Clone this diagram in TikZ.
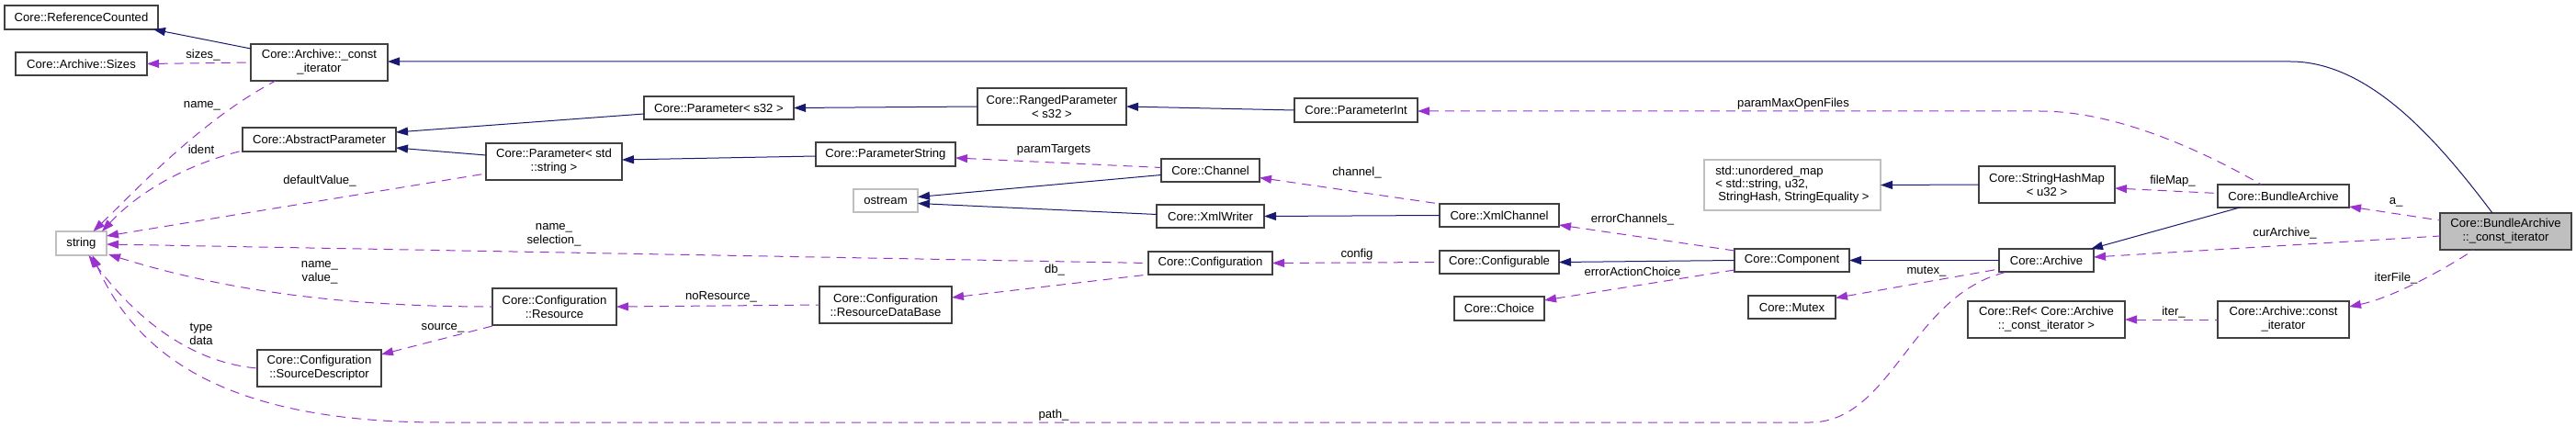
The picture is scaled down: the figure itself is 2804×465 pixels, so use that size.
\documentclass[tikz,border=0pt]{standalone}
\usepackage{fontspec}
\setmainfont{Liberation Sans}
\usetikzlibrary{arrows.meta,calc}
\definecolor{navyc}{HTML}{191970}
\definecolor{orch}{HTML}{9A32CD}
\definecolor{bord}{HTML}{404040}
\definecolor{lgray}{HTML}{BFBFBF}
\newcommand\mknode[7][]{%
  \node[box,#1,minimum width={(#5-#3)*1pt},minimum height={(#6-#4)*1pt}] (#2) at ({(#3+#5)/2},{(#4+#6)/2}) {#7};}
\begin{document}
\begin{tikzpicture}[x=1pt,y=-1pt,
  box/.style={draw=bord, line width=1.1pt, fill=white, inner sep=0pt, outer sep=0pt, align=center, font=\fontsize{13.1}{15}\selectfont},
  ext/.style={draw=lgray},
  hl/.style={fill=lgray},
  lbl/.style={inner sep=0pt, align=center, font=\fontsize{13.1}{14.5}\selectfont},
  inh/.style={draw=navyc, line width=1pt, {Triangle[length=13pt,width=9pt]}-},
  use/.style={draw=orch, line width=1pt, dash pattern=on 10pt off 7pt, {Triangle[length=13pt,width=9pt]}-}]
\useasboundingbox (0,0) rectangle (2804,465);
% nodes
\mknode{refc}{5}{6}{172}{32}{Core::ReferenceCounted}
\mknode{sizes}{17}{57}{160}{82}{Core::Archive::Sizes}
\mknode{aci}{273}{48}{422}{88}{Core::Archive::\_const\\\_iterator}
\mknode{absp}{264}{139}{431}{165}{Core::AbstractParameter}
\mknode[ext]{str}{61}{252}{116}{278}{string}
\mknode{srcd}{280}{381}{415}{421}{Core::Configuration\\::SourceDescriptor}
\mknode{ps32}{701}{105}{864}{130}{Core::Parameter< s32 >}
\mknode{pstd}{529}{156}{677}{196}{Core::Parameter< std\\::string >}
\mknode{res}{536}{314}{671}{354}{Core::Configuration\\::Resource}
\mknode{rdb}{892}{312}{1036}{352}{Core::Configuration\\::ResourceDataBase}
\mknode[ext]{ostr}{929}{206}{999}{231}{ostream}
\mknode{pstr}{888}{155}{1040}{181}{Core::ParameterString}
\mknode{rp}{1064}{96}{1226}{136}{Core::RangedParameter\\< s32 >}
\mknode{chan}{1264}{173}{1371}{198}{Core::Channel}
\mknode{xmlw}{1259}{223}{1376}{248}{Core::XmlWriter}
\mknode{conf}{1250}{274}{1385}{299}{Core::Configuration}
\mknode{pint}{1409}{107}{1543}{133}{Core::ParameterInt}
\mknode{xmlc}{1567}{222}{1697}{247}{Core::XmlChannel}
\mknode{cfgb}{1567}{273}{1697}{298}{Core::Configurable}
\mknode{choice}{1583}{323}{1681}{349}{Core::Choice}
\mknode[ext,align=left,font=\fontsize{13.1}{14}\selectfont]{umap}{1855}{174}{2047}{229}{std::unordered\_map\\< std::string, u32,\\\hspace{3pt}StringHash, StringEquality >}
\mknode{shm}{2154}{181}{2302}{221}{Core::StringHashMap\\< u32 >}
\mknode{comp}{1888}{271}{2013}{296}{Core::Component}
\mknode{arch}{2176}{271}{2279}{296}{Core::Archive}
\mknode{mutex}{1903}{322}{1998}{347}{Core::Mutex}
\mknode{ref}{2142}{328}{2313}{368}{Core::Ref< Core::Archive\\::\_const\_iterator >}
\mknode{ba}{2414}{201}{2557}{226}{Core::BundleArchive}
\mknode[hl]{baci}{2656}{232}{2799}{272}{Core::BundleArchive\\::\_const\_iterator}
\mknode{acit}{2414}{328}{2557}{368}{Core::Archive::const\\\_iterator}
% inheritance edges
\draw[inh] ($(refc.south east)+(-5,0)$) -- ($(aci.north west)+(0,5)$);
\draw[inh] ($(absp.north east)+(0,5)$) -- ($(ps32.west)+(0,6.5)$);
\draw[inh] ($(absp.south east)+(0,-4)$) -- ($(pstd.west)+(0,-7)$);
\draw[inh] (ps32.east) -- (rp.west);
\draw[inh] (rp.east) -- (pint.west);
\draw[inh] ($(pstd.east)+(0,-2)$) -- ($(pstr.west)+(0,2)$);
\draw[inh] ($(ostr.east)+(0,-4)$) -- ($(chan.west)+(0,5)$);
\draw[inh] ($(ostr.east)+(0,3)$) -- ($(xmlw.west)+(0,-2)$);
\draw[inh] (xmlw.east) -- (xmlc.west);
\draw[inh] (cfgb.east) -- (comp.west);
\draw[inh] (comp.east) -- (arch.west);
\draw[inh] ($(arch.north east)+(-3,0)$) -- ($(ba.south west)+(24,0)$);
\draw[inh] (umap.east) -- (shm.west);
\draw[inh] ($(aci.east)+(0,-1)$) -- (2493,67) .. controls (2580,67) and (2655,155) .. ($(baci.north west)+(57,0)$);
% usage edges
\draw[use] (sizes.east) -- (aci.west);
\draw[use] ($(str.north)+(13,0)$) .. controls (150,205) and (220,130) .. ($(aci.south west)+(27,0)$);
\draw[use] ($(str.north east)+(-5,0)$) .. controls (150,210) and (200,180) .. ($(absp.south west)+(0,-1)$);
\draw[use] ($(str.east)+(0,-8)$) -- ($(pstd.west)+(0,13)$);
\draw[use] ($(str.east)+(0,1)$) -- (conf.west);
\draw[use] ($(str.south east)+(2,-1)$) .. controls (250,318) and (380,334) .. (res.west);
\draw[use] ($(str.south)+(8,0)$) .. controls (150,350) and (210,395) .. (srcd.west);
\draw[use] ($(str.south)+(12,0)$) .. controls (150,390) and (250,460) .. (480,460) -- (1970,460) .. controls (2060,460) and (2080,320) .. ($(arch.south west)+(9,0)$);
\draw[use] ($(pstr.east)+(0,4)$) -- ($(chan.west)+(0,-3)$);
\draw[use] ($(chan.east)+(0,8)$) -- (xmlc.north west);
\draw[use] ($(rdb.east)+(0,-8)$) -- (conf.south west);
\draw[use] (res.east) -- (rdb.west);
\draw[use] ($(srcd.east)+(0,-15)$) -- ($(res.south west)+(4,0)$);
\draw[use] (conf.east) -- (cfgb.west);
\draw[use] ($(xmlc.south east)+(0,-2)$) -- ($(comp.north west)+(0,2)$);
\draw[use] ($(choice.east)+(0,-9)$) -- ($(comp.south west)+(0,-2)$);
\draw[use] ($(mutex.east)+(0,-10)$) -- ($(arch.south west)+(0,-3)$);
\draw[use] ($(shm.east)+(0,4)$) -- ($(ba.west)+(0,-3)$);
\draw[use] ($(pint.east)+(0,1)$) -- (2220,121) .. controls (2300,121) and (2390,160) .. ($(ba.north)+(-24,0)$);
\draw[use] ($(ba.south east)+(0,-1)$) -- ($(baci.north west)+(0,8)$);
\draw[use] ($(arch.east)+(0,-3.5)$) -- ($(baci.west)+(0,5)$);
\draw[use] ($(acit.east)+(0,-14)$) .. controls (2600,325) and (2650,300) .. ($(baci.south west)+(37,0)$);
\draw[use] (ref.east) -- (acit.west);
% labels
\node[lbl] (l1) at (221,60) {sizes\_};
\node[lbl] (l2) at (220,115) {name\_};
\node[lbl] (l3) at (219,163) {ident};
\node[lbl] (l4) at (348,197) {defaultValue\_};
\node[lbl] (l5) at (348,297) {name\_\\value\_};
\node[lbl] (l6) at (219,364) {type\\data};
\node[lbl] (l7) at (603,256) {name\_\\selection\_};
\node[lbl] (l8) at (785,323) {noResource\_};
\node[lbl] (l9) at (482,357) {source\_};
\node[lbl] (l10) at (1147,163) {paramTargets};
\node[lbl] (l11) at (1148,294) {db\_};
\node[lbl] (l12) at (1147,452) {path\_};
\node[lbl] (l13) at (1477,188) {channel\_};
\node[lbl] (l14) at (1477,277) {config};
\node[lbl] (l15) at (1777,239) {errorChannels\_};
\node[lbl] (l16) at (1777,296) {errorActionChoice};
\node[lbl] (l17) at (1952,113) {paramMaxOpenFiles};
\node[lbl] (l18) at (2097,296) {mutex\_};
\node[lbl] (l19) at (2365,197) {fileMap\_};
\node[lbl] (l20) at (2608,220) {a\_};
\node[lbl] (l21) at (2487,254) {curArchive\_};
\node[lbl] (l22) at (2608,303) {iterFile\_};
\node[lbl] (l23) at (2366,340) {iter\_};
\end{tikzpicture}
\end{document}
